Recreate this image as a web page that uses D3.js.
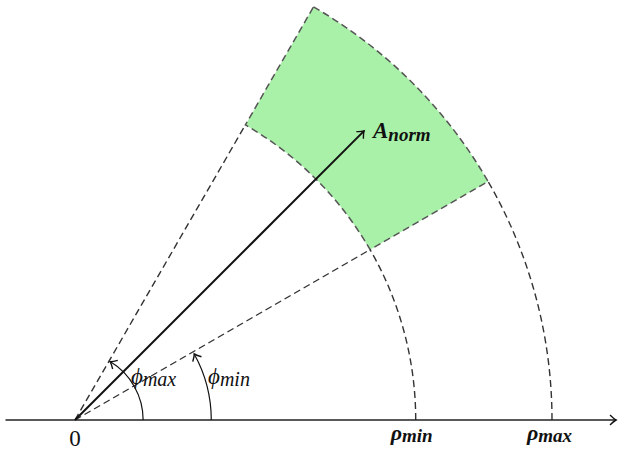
<!DOCTYPE html>
<html>
<head>
<meta charset="utf-8">
<script src="https://cdn.jsdelivr.net/npm/d3@7"></script>
<style>
  body { margin: 0; background: #fff; }
  text { font-family: "Liberation Serif", "DejaVu Serif", serif; fill: #111; }
</style>
</head>
<body>
<div class="container"></div>
<script>
// polar window: angles in degrees, radii in data units
let phis = [30, 60];          // phi_min, phi_max
let rhos = [2.5, 3.5];        // rho_min, rho_max
let aNorm = {phi: 45, rho: 3.0};
let angleArcs = [{r: 0.5, to: 60, name: "max", lx: 131}, {r: 1.0, to: 30, name: "min", lx: 208}];
let axisRange = [-0.51, 3.97];

let width = 620, height = 450;
let origin = {x: 75, y: 420};

let svg = d3.select(".container").append("svg")
    .attr("width", width)
    .attr("height", height);

let r = d3.scaleLinear().domain([0, 3.5]).range([0, 477]);
let rad = d => d * Math.PI / 180;

let defs = svg.append("defs");
defs.append("marker")
    .attr("id", "head")
    .attr("viewBox", "-8 -6 10 12")
    .attr("markerWidth", 10).attr("markerHeight", 12)
    .attr("markerUnits", "userSpaceOnUse")
    .attr("orient", "auto")
  .append("path")
    .attr("d", "M-6,-5 Q-2,-1 0,0 Q-2,1 -6,5")
    .style("fill", "none").style("stroke", "#111").style("stroke-width", 1.4);

let g = svg.append("g")
    .attr("transform", "translate(" + origin.x + "," + origin.y + ")");

// green sector
let sector = d3.arc()
    .innerRadius(r(rhos[0])).outerRadius(r(rhos[1]))
    .startAngle(Math.PI / 2 - rad(phis[1]))
    .endAngle(Math.PI / 2 - rad(phis[0]));
g.append("path")
    .attr("d", sector())
    .style("fill", "#a9f1a9")
    .style("stroke", "#555")
    .style("stroke-width", 1.5)
    .style("stroke-dasharray", "7,4");

// dashed rays from origin to inner edge
phis.forEach(p => {
  g.append("line")
    .attr("x1", 0).attr("y1", 0)
    .attr("x2", r(rhos[0]) * Math.cos(rad(p)))
    .attr("y2", -r(rhos[0]) * Math.sin(rad(p)))
    .style("stroke", "#333").style("stroke-width", 1.4)
    .style("stroke-dasharray", "7,4");
});

// dashed arcs from the axis up to phi_min
rhos.forEach(rho => {
  let p = d3.path();
  p.moveTo(r(rho), 0);
  p.arc(0, 0, r(rho), 0, -rad(phis[0]), true);
  g.append("path")
    .attr("d", p.toString())
    .style("fill", "none")
    .style("stroke", "#333").style("stroke-width", 1.4)
    .style("stroke-dasharray", "7,4");
});

// x axis
g.append("line")
    .attr("x1", r(axisRange[0])).attr("y1", 0)
    .attr("x2", r(axisRange[1])).attr("y2", 0)
    .attr("marker-end", "url(#head)")
    .style("stroke", "#222").style("stroke-width", 1.4);

// angle arcs
angleArcs.forEach(a => {
  let p = d3.path();
  p.moveTo(r(a.r), 0);
  p.arc(0, 0, r(a.r), 0, -rad(a.to - 1), true);
  g.append("path")
    .attr("d", p.toString())
    .attr("marker-end", "url(#head)")
    .style("fill", "none")
    .style("stroke", "#111").style("stroke-width", 1.2);
  let t = svg.append("text")
    .attr("x", a.lx).attr("y", 384)
    .style("font-style", "italic").style("font-size", "23px");
  t.append("tspan").text("\u03D5");
  t.append("tspan").text(a.name).attr("dy", 2).style("font-size", "20px");
});

// A_norm vector
g.append("line")
    .attr("x1", 0).attr("y1", 0)
    .attr("x2", r(aNorm.rho) * Math.cos(rad(aNorm.phi)))
    .attr("y2", -r(aNorm.rho) * Math.sin(rad(aNorm.phi)))
    .attr("marker-end", "url(#head)")
    .style("stroke", "#111").style("stroke-width", 2);

let at = svg.append("text")
    .attr("x", 373).attr("y", 138)
    .style("font-style", "italic").style("font-weight", "bold").style("font-size", "23px");
at.append("tspan").text("A");
at.append("tspan").text("norm").attr("dy", 3).style("font-size", "19px");

// axis labels
svg.append("text")
    .text("0")
    .attr("text-anchor", "middle")
    .attr("x", origin.x).attr("y", 446)
    .style("font-size", "23px");

rhos.forEach((rho, i) => {
  let t = svg.append("text")
    .attr("x", origin.x + r(rho) - 25).attr("y", 440)
    .style("font-style", "italic").style("font-weight", "bold").style("font-size", "22px");
  t.append("tspan").text("\u03C1");
  t.append("tspan").text(i == 0 ? "min" : "max").attr("dy", 2).style("font-size", "19px");
});
</script>
</body>
</html>
